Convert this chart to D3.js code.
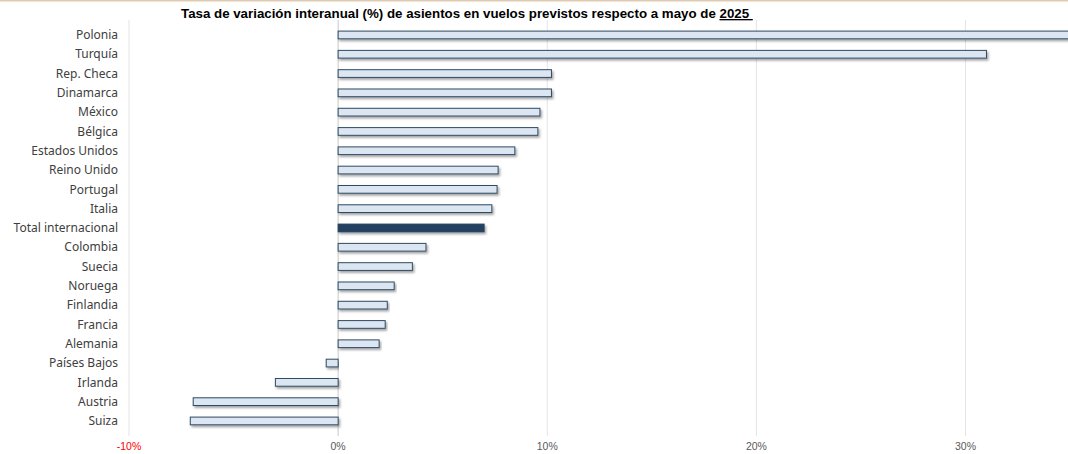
<!DOCTYPE html>
<html>
<head>
<meta charset="utf-8">
<script src="https://cdn.jsdelivr.net/npm/d3@7"></script>
<style>
  body { margin: 0; background: #fff; }
  svg { display: block; }
</style>
</head>
<body>
<div id="chart"></div>
<script>
// Chart size
const width = 1068;
const height = 454;

// Data
const countries = ["Polonia", "Turquía", "Rep. Checa", "Dinamarca", "México", "Bélgica",
  "Estados Unidos", "Reino Unido", "Portugal", "Italia", "Total internacional", "Colombia",
  "Suecia", "Noruega", "Finlandia", "Francia", "Alemania", "Países Bajos", "Irlanda",
  "Austria", "Suiza"];
const values = [36.5, 31.0, 10.2, 10.2, 9.65, 9.55, 8.45, 7.65, 7.6, 7.35, 6.98, 4.2,
  3.55, 2.68, 2.35, 2.25, 1.96, -0.57, -3.0, -6.93, -7.07];
const ticks = [-10, 0, 10, 20, 30];
const highlight = "Total internacional";

const svg = d3.select("#chart")
  .append("svg")
  .attr("width", width)
  .attr("height", height);

// shadow under each bar
const defs = svg.append("defs");
const f = defs.append("filter").attr("id", "shadow")
  .attr("x", "-5%").attr("y", "-50%").attr("width", "110%").attr("height", "250%");
f.append("feDropShadow").attr("dx", 1.5).attr("dy", 2).attr("stdDeviation", 1.2)
  .attr("flood-color", "#000").attr("flood-opacity", 0.35);
defs.append("clipPath").attr("id", "clip")
  .append("rect").attr("x", 0).attr("y", 0).attr("width", width).attr("height", height);

// thin strip at top
svg.append("rect").attr("x", 0).attr("y", 0).attr("width", width).attr("height", 1)
  .attr("fill", "#e8c9a0");
svg.append("rect").attr("x", 0).attr("y", 1).attr("width", width).attr("height", 1)
  .attr("fill", "#e6e6e6");

// scales
const x = d3.scaleLinear()
  .domain([-10, 34.9])
  .range([129, 1068]);

const y = d3.scaleBand()
  .domain(countries)
  .range([25.3, 430.6])
  .paddingInner(0.6)
  .paddingOuter(0.3);

// gridlines
svg.append("g")
  .selectAll("line")
  .data(ticks)
  .enter()
  .append("line")
    .attr("x1", d => x(d)).attr("x2", d => x(d))
    .attr("y1", 20).attr("y2", 436)
    .attr("stroke", d => d === 0 ? "#c8c8c8" : "#e4e4e4")
    .attr("stroke-width", 1);

// tick labels
svg.append("g")
  .selectAll("text")
  .data(ticks)
  .enter()
  .append("text")
    .attr("x", d => x(d))
    .attr("y", 450)
    .attr("text-anchor", "middle")
    .attr("font-family", "'Liberation Sans Narrow', 'Liberation Sans', sans-serif")
    .attr("font-size", "10.5px")
    .attr("fill", d => d < 0 ? "#ff0000" : "#595959")
    .text(d => d + "%");

// category labels
svg.append("g")
  .selectAll("text")
  .data(countries)
  .enter()
  .append("text")
    .attr("x", 118)
    .attr("y", d => y(d) + y.bandwidth() / 2)
    .attr("dy", "0.35em")
    .attr("text-anchor", "end")
    .attr("font-family", "'Noto Sans', sans-serif")
    .attr("font-size", "12px")
    .attr("fill", "#404040")
    .text(d => d);

// bars
svg.append("g")
  .attr("clip-path", "url(#clip)")
  .selectAll(".bar")
  .data(countries)
  .enter()
  .append("rect")
    .attr("class", "bar")
    .attr("x", (d, i) => x(Math.min(0, values[i])))
    .attr("y", d => y(d))
    .attr("width", (d, i) => Math.abs(x(values[i]) - x(0)))
    .attr("height", y.bandwidth())
    .attr("fill", d => d === highlight ? "#243f60" : "#dce6f2")
    .attr("stroke", d => d === highlight ? "#243f60" : "#2e4a62")
    .attr("stroke-width", 1)
    .attr("filter", "url(#shadow)");

// title (trailing nbsp keeps the underline running past the year)
const title = svg.append("text")
  .attr("x", 181)
  .attr("y", 18)
  .attr("font-family", "'Liberation Sans', sans-serif")
  .attr("font-weight", "bold")
  .attr("font-size", "13.3px")
  .attr("fill", "#000");
title.append("tspan").text("Tasa de variación interanual (%) de asientos en vuelos previstos respecto a mayo de ");
title.append("tspan").attr("text-decoration", "underline").text("2025\u00a0");
</script>
</body>
</html>
